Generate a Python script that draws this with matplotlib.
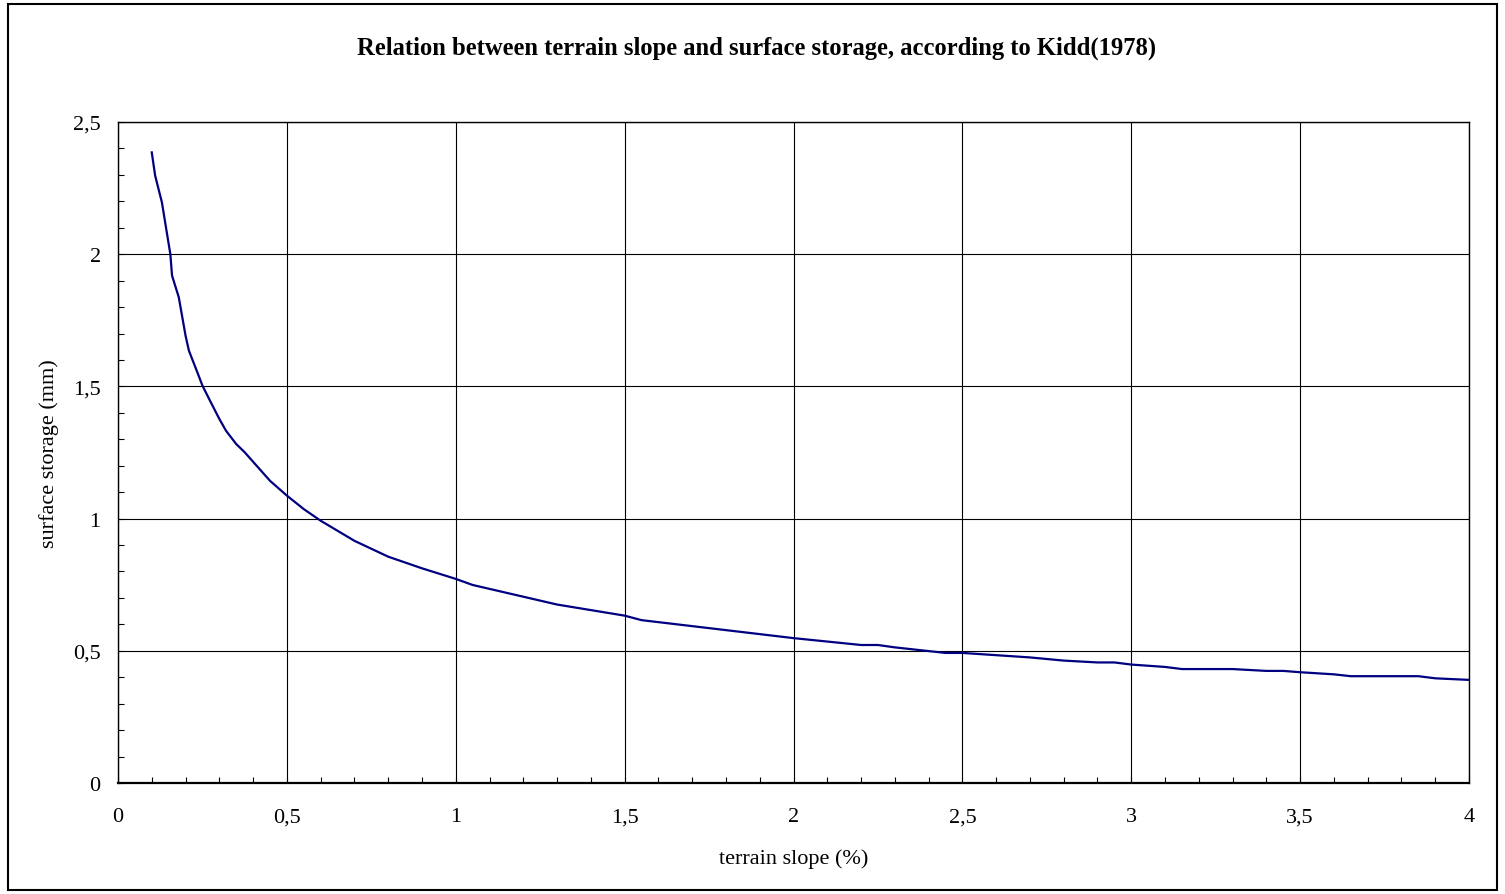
import matplotlib
matplotlib.use("Agg")
import matplotlib.pyplot as plt
from matplotlib.ticker import MultipleLocator, FuncFormatter
from matplotlib.patches import Rectangle

# curve (terrain slope %, surface storage mm)
slope = [0.10, 0.11, 0.13, 0.155, 0.16, 0.18, 0.20, 0.21, 0.235, 0.25, 0.27, 0.30,
         0.32, 0.35, 0.375, 0.45, 0.50, 0.55, 0.60, 0.65, 0.70, 0.80, 0.90, 1.00,
         1.05, 1.30, 1.50, 1.55, 2.00, 2.20, 2.25, 2.30, 2.40, 2.45, 2.50, 2.70,
         2.80, 2.90, 2.95, 3.00, 3.10, 3.15, 3.30, 3.40, 3.45, 3.50, 3.60, 3.65,
         3.85, 3.90, 4.00]
storage = [2.385, 2.297, 2.196, 2.00, 1.919, 1.837, 1.692, 1.635, 1.553, 1.503, 1.452, 1.377,
           1.332, 1.282, 1.251, 1.143, 1.087, 1.036, 0.992, 0.954, 0.916, 0.856, 0.812, 0.772,
           0.749, 0.675, 0.633, 0.616, 0.548, 0.522, 0.522, 0.513, 0.499, 0.492, 0.492, 0.475,
           0.463, 0.456, 0.456, 0.448, 0.439, 0.431, 0.431, 0.424, 0.424, 0.419, 0.411, 0.404,
           0.404, 0.396, 0.390]

plt.rcParams['font.family'] = 'Liberation Serif'

fig = plt.figure(figsize=(15.05, 8.95), dpi=100)
ax = fig.add_axes([0.0784, 0.124, 0.8977, 0.7386])

ax.plot(slope, storage, color='#000080', linewidth=1.6)

ax.set_xlim(0, 4)
ax.set_ylim(0, 2.5)
ax.xaxis.set_major_locator(MultipleLocator(0.5))
ax.xaxis.set_minor_locator(MultipleLocator(0.1))
ax.yaxis.set_major_locator(MultipleLocator(0.5))
ax.yaxis.set_minor_locator(MultipleLocator(0.1))

comma = FuncFormatter(lambda v, p: ('%g' % v).replace('.', ','))
ax.xaxis.set_major_formatter(comma)
ax.yaxis.set_major_formatter(comma)

ax.grid(True, which='major', color='black', linewidth=0.8)
ax.tick_params(which='both', direction='in', length=4, width=0.8, labelsize=16)
ax.tick_params(axis='x', which='major', pad=17.5)
ax.tick_params(axis='y', which='major', pad=12.5)
for s in ax.spines.values():
    s.set_linewidth(1.0)
ax.spines['bottom'].set_linewidth(1.6)

ax.set_xlabel('terrain slope (%)', fontsize=16, labelpad=15.5)
ax.set_ylabel('surface storage (mm)', fontsize=16, labelpad=10)
fig.text(0.503, 0.946, 'Relation between terrain slope and surface storage, according to Kidd(1978)',
         ha='center', va='center', fontsize=17.7, fontweight='bold')

# outer chart frame
fig.patches.append(Rectangle((0.0053, 0.005), 0.9894, 0.989, transform=fig.transFigure,
                             fill=False, edgecolor='black', linewidth=1.5))

fig.savefig('out.png', dpi=100)
